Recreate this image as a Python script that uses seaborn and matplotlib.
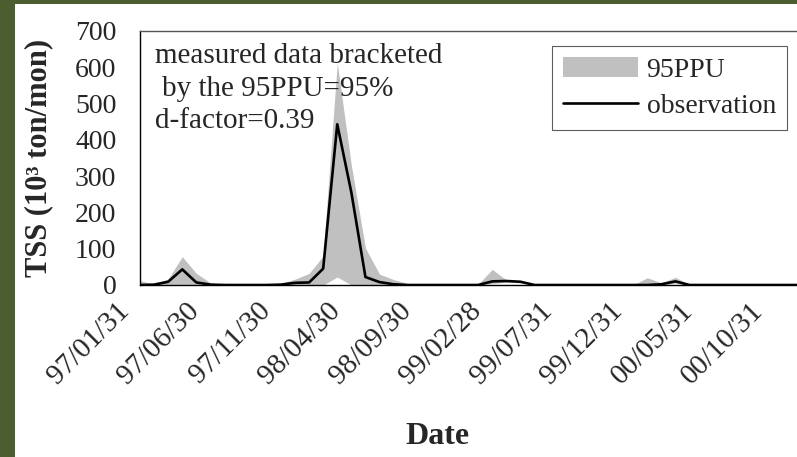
import numpy as np
import pandas as pd
import seaborn as sns
import matplotlib.pyplot as plt
from matplotlib.patches import Patch, Rectangle
from matplotlib.lines import Line2D
from matplotlib.transforms import ScaledTranslation

# monthly TSS, 97/01 .. 00/12 (10^3 ton/mon)
observation = [0, 1, 9, 43, 7, 1, 0, 0, 0, 0, 1, 6, 7, 45, 443, 255, 22, 8, 2, 0,
               0, 0, 0, 0, 0, 10, 11, 9, 0, 0, 0, 0, 0, 0, 0, 0, 0, 2, 10, 0,
               0, 0, 0, 0, 0, 0, 0, 0]
ppu_upper = [12, 2, 17, 78, 32, 6, 1, 0, 0, 1, 5, 16, 32, 80, 612, 330, 102, 30, 15, 4,
             1, 1, 4, 1, 2, 43, 14, 11, 2, 0, 0, 0, 0, 0, 0, 0, 20, 6, 21, 1,
             0, 0, 0, 0, 0, 0, 0, 0]
ppu_lower = [0, 0, 0, 0, 0, 0, 0, 0, 0, 0, 0, 0, 0, 0, 22, 0, 0, 0, 0, 0,
             0, 0, 0, 0, 0, 4, 8, 6, 0, 0, 0, 0, 0, 0, 0, 0, 0, 0, 5, 0,
             0, 0, 0, 0, 0, 0, 0, 0]
tick_labels = ['97/01/31', '97/06/30', '97/11/30', '98/04/30', '98/09/30',
               '99/02/28', '99/07/31', '99/12/31', '00/05/31', '00/10/31']

df = pd.DataFrame({'month': np.arange(len(observation)), 'obs': observation,
                   'lo': ppu_lower, 'hi': ppu_upper})

sns.set_theme(style='white')
plt.rcParams['font.family'] = ['Liberation Serif', 'DejaVu Serif']

W, H = 797, 457
fig = plt.figure(figsize=(W / 100, H / 100), dpi=100, facecolor='#4c5e30')
fig.patches.append(Rectangle((15 / W, 0), 1, 1 - 4 / H, transform=fig.transFigure,
                             facecolor='white', edgecolor='none', zorder=-1))

ax = fig.add_axes([140 / W, 1 - 285 / H, (W - 140) / W, (285 - 31) / H])
ax.set_facecolor('white')

ax.fill_between(df['month'], df['lo'], df['hi'], color='#c0c0c0', linewidth=0)
sns.lineplot(data=df, x='month', y='obs', color='black', linewidth=1.9, ax=ax)

ax.set_xlim(0, (W - 140) / 14.09)
ax.set_ylim(0, 700)
ax.set_yticks(range(0, 701, 100))
ax.set_xticks(range(0, 5 * len(tick_labels), 5))
ax.set_xticklabels(tick_labels, rotation=45, ha='right', rotation_mode='anchor')
ax.tick_params(axis='both', direction='out', length=6, width=0.8, color='#333333')
ax.tick_params(axis='y', labelsize=20, pad=11)
ax.tick_params(axis='x', labelsize=21, pad=1)
shift = ScaledTranslation(-0.24, -0.03, fig.dpi_scale_trans)
for lab in ax.get_xticklabels():
    lab.set_transform(lab.get_transform() + shift)
ax.set_xlabel('')
ax.set_ylabel('')

for side in ['left', 'bottom']:
    ax.spines[side].set_color('black')
    ax.spines[side].set_linewidth(1.0)
ax.spines['top'].set_color('#555555')
ax.spines['top'].set_linewidth(1.0)
ax.spines['right'].set_visible(False)

fig.text(437 / W, 1 - 437 / H, 'Date', ha='center', va='center', fontsize=23,
         fontweight='bold')
fig.text(39 / W, 1 - 158 / H, 'TSS (10³ ton/mon)', ha='center', va='center',
         rotation=90, fontsize=22, fontweight='bold')

fig.text(155 / W, 1 - 56 / H, 'measured data bracketed', ha='left', va='center', fontsize=21)
fig.text(162 / W, 1 - 89 / H, 'by the 95PPU=95%', ha='left', va='center', fontsize=21)
fig.text(155 / W, 1 - 121 / H, 'd-factor=0.39', ha='left', va='center', fontsize=21)

handles = [Patch(facecolor='#c0c0c0', edgecolor='none', label='95PPU'),
           Line2D([], [], color='black', linewidth=1.9, label='observation')]
leg = fig.legend(handles=handles, loc='upper right', bbox_to_anchor=(787 / W, 1 - 46 / H),
                 fontsize=20, frameon=True, fancybox=False, edgecolor='#333333',
                 handlelength=2.7, handleheight=0.75, handletextpad=0.3,
                 borderpad=0.4, labelspacing=0.35, borderaxespad=0)
leg.get_frame().set_linewidth(0.8)

fig.savefig('out.png', dpi=100, facecolor=fig.get_facecolor())
